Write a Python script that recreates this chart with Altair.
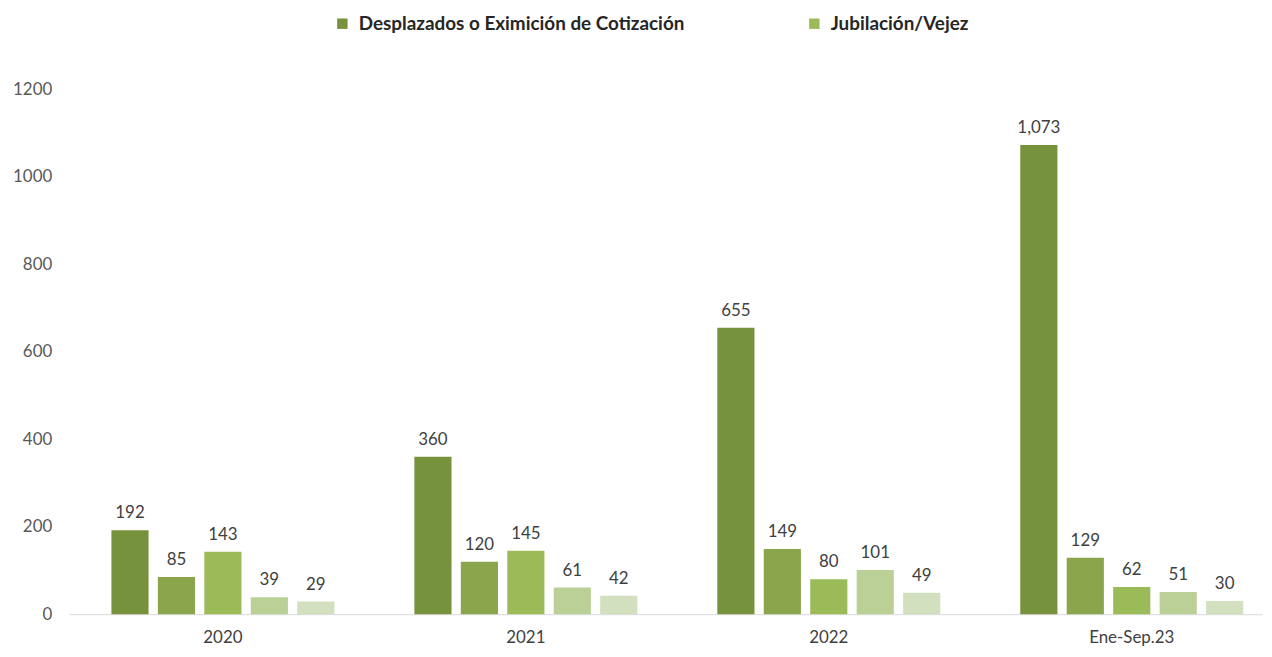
import altair as alt
import pandas as pd

categories = ["2020", "2021", "2022", "Ene-Sep.23"]
series = ["Desplazados o Eximición de Cotización", "Serie 2", "Jubilación/Vejez", "Serie 4", "Serie 5"]
values = {
    "Desplazados o Eximición de Cotización": [192, 360, 655, 1073],
    "Serie 2": [85, 120, 149, 129],
    "Jubilación/Vejez": [143, 145, 80, 62],
    "Serie 4": [39, 61, 101, 51],
    "Serie 5": [29, 42, 49, 30],
}
colors = ["#76923c", "#8aa54c", "#9bbb59", "#bbd096", "#d3e0bf"]
legend_shown = ["Desplazados o Eximición de Cotización", "Jubilación/Vejez"]
y_ticks = [0, 200, 400, 600, 800, 1000, 1200]

rows = []
for s in series:
    for c, v in zip(categories, values[s]):
        rows.append({"cat": c, "serie": s, "val": v})
df = pd.DataFrame(rows)

FONT = "Lato"

base = alt.Chart(df).encode(
    x=alt.X("cat:N", sort=categories, title=None,
            scale=alt.Scale(paddingInner=0.264, paddingOuter=0.1, align=0.69),
            axis=alt.Axis(labelAngle=0, ticks=False, domainColor="#d9d9d9", domainWidth=1,
                          labelFont=FONT, labelFontSize=17, labelColor="#404040",
                          labelPadding=15)),
    xOffset=alt.XOffset("serie:N", sort=series, scale=alt.Scale(paddingInner=0.2)),
)

bars = base.mark_bar().encode(
    y=alt.Y("val:Q", title=None,
            scale=alt.Scale(domain=[0, 1200], nice=False),
            axis=alt.Axis(values=y_ticks, format="d", grid=False, domain=False, ticks=False,
                          labelFont=FONT, labelFontSize=17, labelColor="#595959",
                          labelPadding=18)),
    color=alt.Color("serie:N", sort=series,
                    scale=alt.Scale(domain=series, range=colors),
                    legend=alt.Legend(values=legend_shown, title=None, orient="none",
                                      legendX=265, legendY=-76, direction="horizontal",
                                      symbolType="square", symbolSize=110,
                                      labelFont=FONT, labelFontSize=19, labelFontWeight="bold",
                                      labelColor="#262626", labelLimit=700,
                                      columnPadding=120, labelOffset=7)),
)

labels = base.mark_text(baseline="bottom", dy=-8, font=FONT, fontSize=17, color="#404040").encode(
    y=alt.Y("val:Q"),
    text=alt.Text("val:Q", format=","),
)

chart = (bars + labels).properties(
    width=1200, height=528,
    padding={"left": 62, "top": 80, "right": 2, "bottom": 33},
    autosize=alt.AutoSizeParams(type="none"),
).configure(background="white").configure_view(strokeWidth=0, stroke="transparent")

chart.save("out.html", embed_options={"renderer": "svg", "actions": False})
